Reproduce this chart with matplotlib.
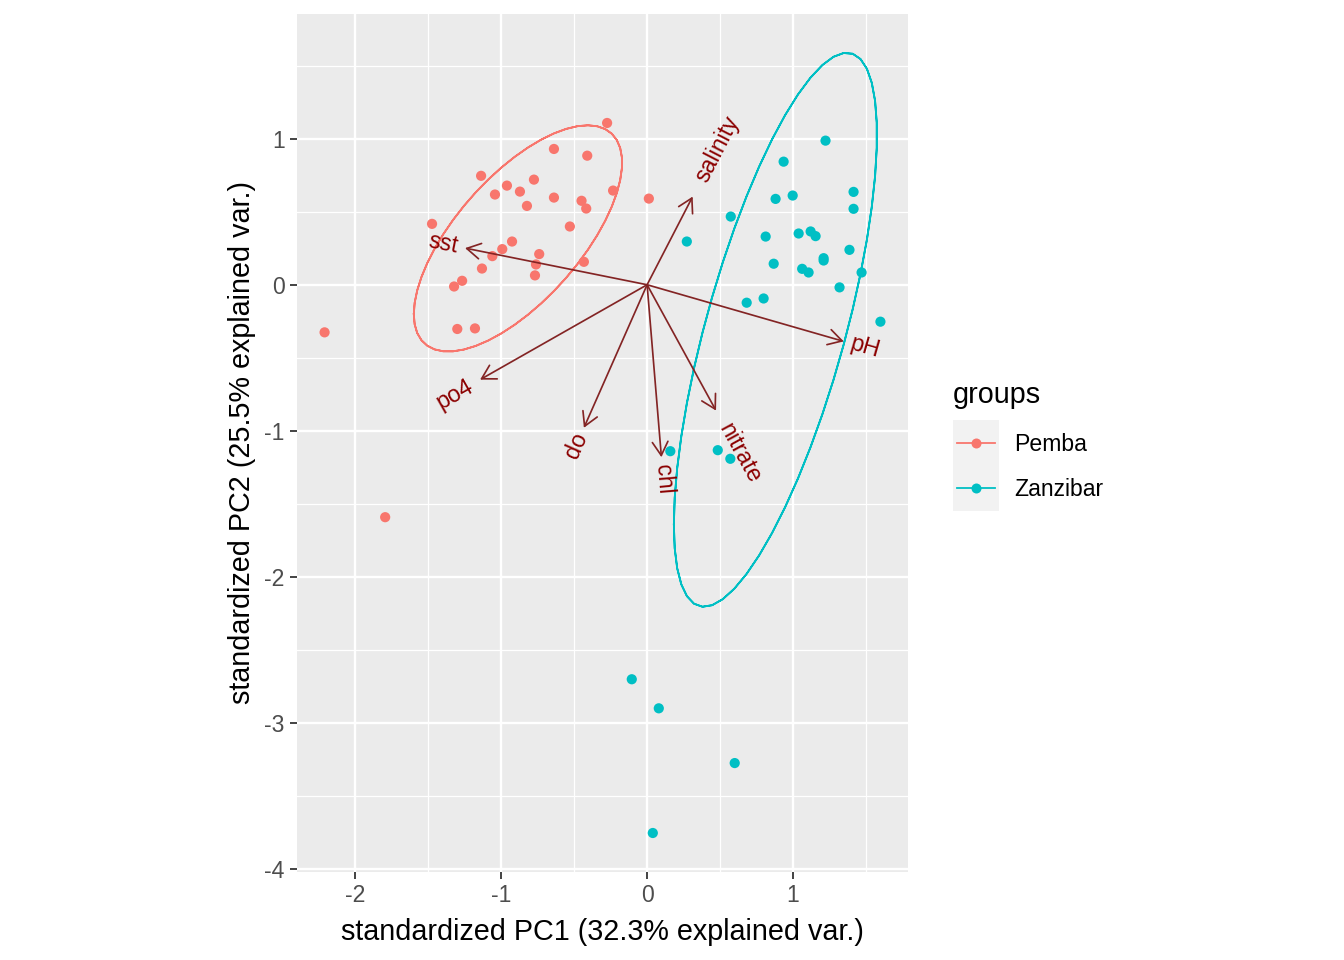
import numpy as np
import matplotlib
matplotlib.use("Agg")
import matplotlib.pyplot as plt
from matplotlib.patches import FancyArrowPatch, Rectangle
from matplotlib.lines import Line2D
from matplotlib.textpath import TextToPath
from matplotlib.font_manager import FontProperties

# ---------------- data ----------------
groups = ["Pemba", "Zanzibar"]
colors = {"Pemba": "#F8766D", "Zanzibar": "#00BFC4"}

pemba_pc1 = [-0.274, -0.638, -0.410, -1.137, -0.775, -0.960, -0.871, -1.042, -0.233, 0.012,
             -0.638, -0.449, -0.417, -0.823, -1.473, -0.529, -0.925, -0.992, -0.739, -1.060,
             -0.761, -0.433, -0.768, -1.131, -1.267, -1.322, -1.300, -1.179, -2.209, -1.794]
pemba_pc2 = [1.108, 0.930, 0.884, 0.746, 0.720, 0.679, 0.638, 0.618, 0.645, 0.590,
             0.597, 0.575, 0.522, 0.540, 0.417, 0.399, 0.296, 0.244, 0.210, 0.196,
             0.139, 0.157, 0.064, 0.111, 0.027, -0.012, -0.303, -0.299, -0.326, -1.592]

zanzibar_pc1 = [1.222, 0.935, 0.880, 0.997, 1.414, 1.414, 0.573, 0.272, 0.812, 1.038,
                1.120, 1.154, 1.386, 1.209, 1.209, 0.867, 1.062, 1.106, 1.469, 1.318,
                0.798, 0.682, 1.598, 0.159, 0.484, 0.570, -0.105, 0.080, 0.600, 0.039]
zanzibar_pc2 = [0.987, 0.843, 0.588, 0.611, 0.636, 0.520, 0.467, 0.296, 0.330, 0.351,
                0.365, 0.333, 0.239, 0.182, 0.166, 0.144, 0.109, 0.084, 0.084, -0.018,
                -0.094, -0.123, -0.253, -1.140, -1.133, -1.192, -2.702, -2.901, -3.276, -3.755]

var_names = ["sst", "salinity", "pH", "po4", "do", "chl", "nitrate"]
var_pc1 = [-1.247, 0.312, 1.347, -1.144, -0.433, 0.098, 0.472]
var_pc2 = [0.251, 0.604, -0.388, -0.650, -0.980, -1.181, -0.862]

x_breaks = [-2, -1, 0, 1]
y_breaks = [-4, -3, -2, -1, 0, 1]
x_label = "standardized PC1 (32.3% explained var.)"
y_label = "standardized PC2 (25.5% explained var.)"
ellipse_prob = 0.68

scores = {"Pemba": (np.array(pemba_pc1), np.array(pemba_pc2)),
          "Zanzibar": (np.array(zanzibar_pc1), np.array(zanzibar_pc2))}

# ---------------- ellipses (as ggbiplot) ----------------
theta = np.concatenate([np.linspace(-np.pi, np.pi, 50), np.linspace(np.pi, -np.pi, 50)])
circle = np.column_stack([np.cos(theta), np.sin(theta)])
ed = np.sqrt(-2 * np.log(1 - ellipse_prob))  # qchisq(p, df=2)
ellipses = {}
for g in groups:
    x, y = scores[g]
    sigma = np.cov(np.vstack([x, y]))
    mu = np.array([x.mean(), y.mean()])
    L = np.linalg.cholesky(sigma)
    ellipses[g] = circle @ L.T * ed + mu

# ---------------- limits ----------------
allx = np.concatenate([scores[g][0] for g in groups] + [ellipses[g][:, 0] for g in groups] + [np.array(var_pc1), [0]])
ally = np.concatenate([scores[g][1] for g in groups] + [ellipses[g][:, 1] for g in groups] + [np.array(var_pc2), [0]])
xr = allx.max() - allx.min()
yr = ally.max() - ally.min()
xlim = (allx.min() - 0.05 * xr, allx.max() + 0.05 * xr)
ylim = (ally.min() - 0.05 * yr, ally.max() + 0.05 * yr)

# ---------------- figure ----------------
W, H, DPI = 1344, 960, 144
fig = plt.figure(figsize=(W / DPI, H / DPI), dpi=DPI)
plt.rcParams['font.family'] = ['Liberation Sans', 'DejaVu Sans']

panel_h = 858.0
panel_w = panel_h * (xlim[1] - xlim[0]) / (ylim[1] - ylim[0])
cx = 602.5
ax = fig.add_axes([(cx - panel_w / 2) / W, 88.0 / H, panel_w / W, panel_h / H])
ax.set_xlim(xlim)
ax.set_ylim(ylim)
ax.set_facecolor("#EBEBEB")
for s in ax.spines.values():
    s.set_visible(False)

ax.set_xticks(x_breaks)
ax.set_yticks(y_breaks)
ax.set_xticklabels([str(v) for v in x_breaks])
ax.set_yticklabels([str(v) for v in y_breaks])
ax.set_xticks([v + 0.5 for v in range(-3, 2) if xlim[0] < v + 0.5 < xlim[1]], minor=True)
ax.set_yticks([v + 0.5 for v in range(-5, 2) if ylim[0] < v + 0.5 < ylim[1]], minor=True)
ax.grid(which="major", color="white", linewidth=1.2)
ax.grid(which="minor", color="white", linewidth=0.6)
ax.set_axisbelow(True)
ax.tick_params(which="major", length=3.5, width=0.9, color="#333333", labelsize=11.5,
               labelcolor="#4D4D4D", pad=2.5)
ax.tick_params(which="minor", length=0)

ax.set_xlabel(x_label, fontsize=14.4, labelpad=5.5)
ax.set_ylabel(y_label, fontsize=14.4, labelpad=4)

# points
for g in groups:
    x, y = scores[g]
    ax.scatter(x, y, s=26, color=colors[g], edgecolors="none", zorder=3)

# ellipses
for g in groups:
    e = ellipses[g]
    ax.plot(e[:, 0], e[:, 1], color=colors[g], linewidth=0.9, zorder=3)

# arrows
arrow_col = "#832424"
for vx, vy in zip(var_pc1, var_pc2):
    arr = FancyArrowPatch((0, 0), (vx, vy), arrowstyle="->,head_length=6.8,head_width=3.9",
                          mutation_scale=1, shrinkA=0, shrinkB=0, color=arrow_col,
                          linewidth=0.85, zorder=4)
    ax.add_patch(arr)

# variable labels (hjust = (1 - 1.5*sign(x))/2, angle = atan(y/x))
fs_var = 11.6
fp = FontProperties(family="Liberation Sans", size=fs_var)
t2p = TextToPath()
for name, vx, vy in zip(var_names, var_pc1, var_pc2):
    wpt, hpt, dpt = t2p.get_text_width_height_descent(name, fp, ismath=False)
    ang = np.degrees(np.arctan(vy / vx))
    u = np.array([vx, vy]) / np.hypot(vx, vy)
    off = 0.75 * wpt * u
    ax.annotate(name, xy=(vx, vy), xytext=(off[0], off[1]), textcoords="offset points",
                ha="center", va="center", rotation=ang, rotation_mode="anchor",
                color="#8B0000", fontsize=fs_var, zorder=5)

# legend (ggplot style)
def fx(px):
    return px / W

def fy(py):
    return 1 - py / H

fig.text(fx(953), fy(395), "groups", fontsize=14.4, ha="left", va="center")
key_top = 420
key_h = 45.5
for i, g in enumerate(groups):
    top = key_top + i * key_h
    fig.add_artist(Rectangle((fx(953), fy(top + key_h)), 46 / W, key_h / H,
                             transform=fig.transFigure, facecolor="#F2F2F2", edgecolor="none"))
    yc = fy(top + key_h / 2)
    fig.add_artist(Line2D([fx(957), fx(995)], [yc, yc], transform=fig.transFigure,
                          color=colors[g], linewidth=0.9))
    fig.add_artist(Line2D([fx(976)], [yc], transform=fig.transFigure, marker="o",
                          markersize=5, color=colors[g], markeredgewidth=0, linestyle="none"))
    fig.text(fx(1014), yc - 1.5 / H, g, fontsize=11.5, ha="left", va="center")

fig.savefig("out.png", dpi=DPI, facecolor="white")
